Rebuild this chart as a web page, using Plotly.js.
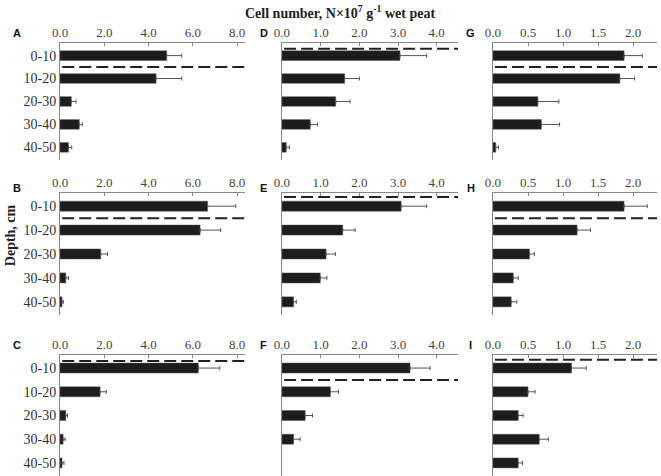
<!DOCTYPE html>
<html>
<head>
<meta charset="utf-8">
<script src="https://cdn.plot.ly/plotly-3.0.1.min.js"></script>
<style>
  body { margin: 0; background: #fff; }
  #graph { width: 661px; height: 476px; }
</style>
</head>
<body>
<div id="graph"></div>
<script>
// Depth layers (y categories)
const depths = ['0-10', '10-20', '20-30', '30-40', '40-50'];

// Cell number per panel, N x 10^7 g-1 wet peat
const cellsA = [4.82, 4.34, 0.51, 0.87, 0.38];
const cellsB = [6.67, 6.33, 1.84, 0.26, 0.09];
const cellsC = [6.25, 1.81, 0.26, 0.14, 0.09];
const cellsD = [3.05, 1.62, 1.39, 0.73, 0.11];
const cellsE = [3.08, 1.57, 1.14, 0.99, 0.30];
const cellsF = [3.31, 1.25, 0.60, 0.30, null]; // no cells found at 40-50
const cellsG = [1.87, 1.81, 0.64, 0.69, 0.04];
const cellsH = [1.87, 1.20, 0.52, 0.29, 0.26];
const cellsI = [1.12, 0.50, 0.36, 0.66, 0.36];

// Standard errors (drawn on the plus side only)
const errA = [0.68, 1.16, 0.21, 0.14, 0.15];
const errB = [1.27, 0.93, 0.30, 0.12, 0.06];
const errC = [0.97, 0.28, 0.08, 0.09, 0.09];
const errD = [0.69, 0.38, 0.37, 0.19, 0.08];
const errE = [0.66, 0.32, 0.24, 0.17, 0.07];
const errF = [0.52, 0.21, 0.19, 0.17, null];
const errG = [0.26, 0.21, 0.30, 0.26, 0.04];
const errH = [0.33, 0.19, 0.07, 0.07, 0.08];
const errI = [0.21, 0.10, 0.07, 0.13, 0.06];

// Position of the dashed line (category index) in each panel
const dividers = [0.5, 0.5, -0.3, -0.3, -0.38, 0.5, 0.5, 0.5, -0.35];

const panelLetters = ['A', 'B', 'C', 'D', 'E', 'F', 'G', 'H', 'I'];
const panelCells = [cellsA, cellsB, cellsC, cellsD, cellsE, cellsF, cellsG, cellsH, cellsI];
const panelErr = [errA, errB, errC, errD, errE, errF, errG, errH, errI];

// layout geometry (paper fractions)
const colDomains = [[0.0908, 0.3707], [0.4266, 0.6929], [0.7458, 0.994]];
const rowDomains = [[0.6639, 0.9097], [0.3382, 0.5945], [0.0, 0.2542]];
const colMax = [8.36, 4.55, 2.34];
const colDtick = [2, 1, 0.5];
const letterX = [0.026, 0.399, 0.712];
const letterY = [0.93, 0.605, 0.275];

const traces = [];
const shapes = [];
const annotations = [];
const layout = {
    width: 661,
    height: 476,
    margin: { l: 0, r: 0, t: 0, b: 0 },
    showlegend: false,
    paper_bgcolor: '#fff',
    plot_bgcolor: '#fff',
    font: { family: 'Liberation Serif, Times New Roman, serif', color: '#333', size: 13 },
    bargap: 0.58
};

panelLetters.forEach((letter, i) => {
    const col = Math.floor(i / 3);
    const row = i % 3;
    const n = i + 1;
    const xa = n === 1 ? 'x' : 'x' + n;
    const ya = n === 1 ? 'y' : 'y' + n;

    traces.push({
        type: 'bar',
        orientation: 'h',
        x: panelCells[i],
        y: depths,
        xaxis: xa,
        yaxis: ya,
        marker: { color: '#1d1d1d', line: { color: '#555', width: 0.5 } },
        error_x: {
            type: 'data',
            symmetric: false,
            array: panelErr[i],
            arrayminus: panelErr[i].map(() => 0),
            color: '#555',
            thickness: 1,
            width: 2
        },
        hoverinfo: 'x+y'
    });

    layout['xaxis' + (n === 1 ? '' : n)] = {
        domain: colDomains[col],
        anchor: ya,
        side: 'top',
        range: [0, colMax[col]],
        dtick: colDtick[col],
        tick0: 0,
        tickformat: '.1f',
        showgrid: false,
        zeroline: false,
        showline: true,
        linecolor: '#888',
        linewidth: 1,
        ticks: 'inside',
        ticklen: 3,
        tickcolor: '#888',
        tickfont: { size: 13, color: '#444' },
        fixedrange: true
    };

    layout['yaxis' + (n === 1 ? '' : n)] = {
        domain: rowDomains[row],
        anchor: xa,
        type: 'category',
        range: [4.55, -0.55],
        showgrid: false,
        zeroline: false,
        showline: true,
        linecolor: '#888',
        linewidth: 1,
        ticks: '',
        showticklabels: col === 0,
        tickfont: { size: 14, color: '#333' },
        fixedrange: true
    };

    shapes.push({
        type: 'line',
        xref: xa + ' domain',
        yref: ya,
        x0: 0.012,
        x1: 1,
        y0: dividers[i],
        y1: dividers[i],
        line: { color: '#222', width: 2, dash: '12px,5px' }
    });

    annotations.push({
        text: '<b>' + letter + '</b>',
        xref: 'paper',
        yref: 'paper',
        x: letterX[col],
        y: letterY[row],
        xanchor: 'center',
        yanchor: 'middle',
        showarrow: false,
        font: { family: 'Liberation Sans, Arial, sans-serif', size: 11, color: '#111' }
    });
});

annotations.push({
    text: '<b>Cell number, N×10<sup>7</sup> g<sup>-1</sup> wet peat</b>',
    xref: 'paper',
    yref: 'paper',
    x: 0.515,
    y: 0.975,
    xanchor: 'center',
    yanchor: 'middle',
    showarrow: false,
    font: { size: 14, color: '#222' }
});

annotations.push({
    text: '<b>Depth, cm</b>',
    xref: 'paper',
    yref: 'paper',
    x: 0.016,
    y: 0.505,
    textangle: -90,
    xanchor: 'center',
    yanchor: 'middle',
    showarrow: false,
    font: { size: 14, color: '#222' }
});

layout.shapes = shapes;
layout.annotations = annotations;

Plotly.newPlot('graph', traces, layout, { displayModeBar: false, staticPlot: true });
</script>
</body>
</html>
